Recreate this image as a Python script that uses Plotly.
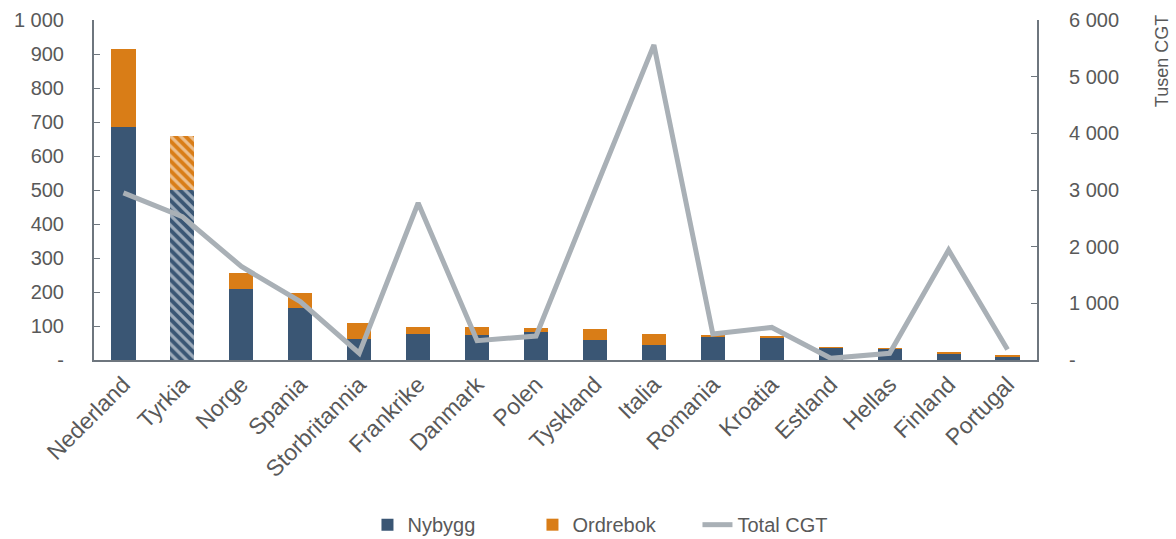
import plotly.graph_objects as go

countries = ["Nederland", "Tyrkia", "Norge", "Spania", "Storbritannia", "Frankrike",
             "Danmark", "Polen", "Tyskland", "Italia", "Romania", "Kroatia",
             "Estland", "Hellas", "Finland", "Portugal"]
nybygg = [686, 500, 210, 152, 61, 76, 73, 83, 60, 44, 69, 66, 36, 34, 17, 10]
ordrebok = [230, 159, 45, 44, 47, 20, 23, 10, 30, 32, 3, 5, 2, 1, 7, 4]
total_cgt = [2950, 2530, 1650, 1030, 120, 2770, 340, 423, 3000, 5560, 460, 575, 30, 118, 1940, 185]

left_ticks = [0, 100, 200, 300, 400, 500, 600, 700, 800, 900, 1000]
left_text = ["-", "100", "200", "300", "400", "500", "600", "700", "800", "900", "1 000"]
right_ticks = [0, 1000, 2000, 3000, 4000, 5000, 6000]
right_text = ["-", "1 000", "2 000", "3 000", "4 000", "5 000", "6 000"]

BLUE = "#3A5674"
ORANGE = "#D97D17"
GREY = "#A9B0B6"
AXIS = "#6E767E"
TXT = "#595959"
FONT = "Liberation Sans"
FS = 20

patterns = ["\\" if c == "Tyrkia" else "" for c in countries]

fig = go.Figure()
fig.add_trace(go.Bar(
    x=countries, y=nybygg, name="Nybygg",
    marker=dict(color=BLUE, line=dict(width=0),
                pattern=dict(shape=patterns, fgcolor="white", bgcolor=BLUE,
                             fillmode="overlay", size=7, solidity=0.45)),
))
fig.add_trace(go.Bar(
    x=countries, y=ordrebok, name="Ordrebok",
    marker=dict(color=ORANGE, line=dict(width=0),
                pattern=dict(shape=patterns, fgcolor="white", bgcolor=ORANGE,
                             fillmode="overlay", size=7, solidity=0.45)),
))
fig.add_trace(go.Scatter(
    x=countries, y=total_cgt, name="Total CGT", yaxis="y2", mode="lines",
    line=dict(color=GREY, width=5),
))

fig.update_layout(
    width=1176, height=539,
    margin=dict(l=94, r=139, t=20, b=179, autoexpand=False),
    barmode="stack", bargap=0.59,
    plot_bgcolor="white", paper_bgcolor="white",
    font=dict(family=FONT, size=FS, color=TXT),
    xaxis=dict(showline=True, linecolor=AXIS, linewidth=2, tickangle=-45,
               ticks="", showgrid=False, automargin=False,
               tickfont=dict(size=23, color=TXT)),
    yaxis=dict(range=[0, 1000], tickvals=left_ticks, ticktext=left_text,
               showline=True, linecolor=AXIS, linewidth=2, ticks="inside",
               ticklen=6, tickcolor=AXIS, showgrid=False, zeroline=False,
               automargin=False, tickfont=dict(size=FS, color=TXT),
               ticklabelstandoff=24),
    yaxis2=dict(range=[0, 6000], tickvals=right_ticks, ticktext=right_text,
                overlaying="y", side="right", showline=True, linecolor=AXIS,
                linewidth=2, ticks="inside", ticklen=6, tickcolor=AXIS,
                showgrid=False, zeroline=False, automargin=False,
                tickfont=dict(size=FS, color=TXT), ticklabelstandoff=26),
    legend=dict(orientation="h", x=0.29, xanchor="left", y=-0.427, yanchor="top",
                entrywidth=120, entrywidthmode="pixels",
                font=dict(size=FS, color=TXT), traceorder="normal"),
    showlegend=True,
)
fig.add_annotation(text="Tusen CGT", xref="paper", yref="paper", x=1.1325, y=1.02,
                   xanchor="center", yanchor="top", textangle=-90, showarrow=False,
                   font=dict(size=18, color=TXT, family=FONT))

fig.write_html("out.html", config={"displayModeBar": False},
               post_script="document.body.style.margin='0';")
